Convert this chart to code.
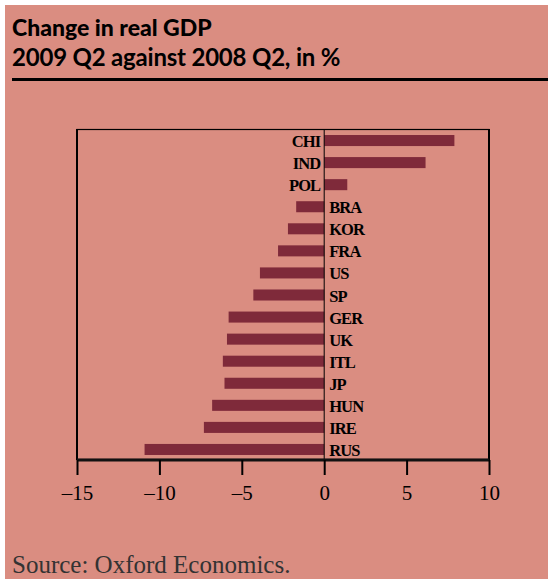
<!DOCTYPE html>
<html>
<head>
<meta charset="utf-8">
<script src="https://cdn.jsdelivr.net/npm/d3@7"></script>
<style>
  body { margin: 0; background: #fff; }
</style>
</head>
<body>
<div class="canvas"></div>
<script>
const countries = ["CHI", "IND", "POL", "BRA", "KOR", "FRA", "US", "SP", "GER", "UK", "ITL", "JP", "HUN", "IRE", "RUS"];
const gdpChange = [7.9, 6.15, 1.4, -1.7, -2.2, -2.8, -3.9, -4.3, -5.8, -5.9, -6.15, -6.05, -6.8, -7.3, -10.9];
const xTicks = [-15, -10, -5, 0, 5, 10];

const width = 548;
const height = 579;
const margin = { top: 130, bottom: 119, left: 77, right: 59 };

const bg = "#da8d81";
const barColor = "#7f2a3a";

const svg = d3
  .select(".canvas")
  .append("svg")
  .attr("width", width)
  .attr("height", height);

// pink panel, white strip on top and left
svg
  .append("rect")
  .attr("x", 5)
  .attr("y", 5)
  .attr("width", width - 5)
  .attr("height", height - 5)
  .attr("fill", bg);

// titles
svg
  .append("text")
  .attr("x", 12)
  .attr("y", 36)
  .attr("font-family", "Lato, sans-serif")
  .attr("font-weight", 900)
  .attr("font-size", 23)
  .attr("letter-spacing", 0)
  .text("Change in real GDP");

svg
  .append("text")
  .attr("x", 12)
  .attr("y", 66)
  .attr("font-family", "Lato, sans-serif")
  .attr("font-weight", 700)
  .attr("font-size", 24)
  .attr("letter-spacing", -0.2)
  .text("2009 Q2 against 2008 Q2, in %");

svg
  .append("line")
  .attr("x1", 12)
  .attr("x2", width)
  .attr("y1", 79.5)
  .attr("y2", 79.5)
  .attr("stroke", "#000")
  .attr("stroke-width", 3);

// scales
const x = d3
  .scaleLinear()
  .domain([-15, 10])
  .range([margin.left, width - margin.right]);

const y = d3
  .scaleBand()
  .domain(countries)
  .range([margin.top - 0.5, height - margin.bottom + 0.5])
  .paddingInner(0.5)
  .paddingOuter(0.25);

const graph = svg.append("g");

// frame
graph
  .append("rect")
  .attr("x", x(-15))
  .attr("y", margin.top - 0.5)
  .attr("width", x(10) - x(-15))
  .attr("height", height - margin.bottom - margin.top)
  .attr("fill", "none")
  .attr("stroke", "#000")
  .attr("stroke-width", 1.2);

graph
  .selectAll("line.side")
  .data([-15, 10])
  .join("line")
  .attr("class", "side")
  .attr("x1", (d) => x(d))
  .attr("x2", (d) => x(d))
  .attr("y1", margin.top - 1)
  .attr("y2", height - margin.bottom)
  .attr("stroke", "#000")
  .attr("stroke-width", 2);

// bars
graph
  .selectAll("rect.bar")
  .data(countries)
  .join("rect")
  .attr("class", "bar")
  .attr("x", (d, i) => x(Math.min(0, gdpChange[i])))
  .attr("y", (d) => y(d))
  .attr("width", (d, i) => Math.abs(x(gdpChange[i]) - x(0)))
  .attr("height", y.bandwidth())
  .attr("fill", barColor);

// zero line
graph
  .append("line")
  .attr("x1", x(0))
  .attr("x2", x(0))
  .attr("y1", margin.top)
  .attr("y2", height - margin.bottom)
  .attr("stroke", "#000")
  .attr("stroke-width", 1);

// country labels, on the opposite side of the bar
graph
  .selectAll("text.lbl")
  .data(countries)
  .join("text")
  .attr("class", "lbl")
  .attr("x", (d, i) => (gdpChange[i] >= 0 ? x(0) - 4 : x(0) + 5))
  .attr("y", (d) => y(d) + y.bandwidth() + 1)
  .attr("text-anchor", (d, i) => (gdpChange[i] >= 0 ? "end" : "start"))
  .attr("font-family", "Liberation Serif, serif")
  .attr("font-weight", "bold")
  .attr("font-size", 16.5)
  .attr("letter-spacing", -0.9)
  .text((d) => d);

// x axis
const xAxis = d3
  .axisBottom(x)
  .tickValues(xTicks)
  .tickSize(15)
  .tickPadding(10)
  .tickFormat((d) => (d < 0 ? "\u2013" + Math.abs(d) : d));

const xAxisGroup = graph
  .append("g")
  .attr("transform", `translate(0,${height - margin.bottom})`)
  .call(xAxis);

xAxisGroup
  .select(".domain")
  .attr("stroke", "#111")
  .attr("stroke-width", 3)
  .attr("d", `M${x(-15)},0H${x(10)}`);

xAxisGroup.selectAll(".tick line").attr("stroke", "#000").attr("stroke-width", 2);

xAxisGroup
  .selectAll(".tick text")
  .attr("fill", "#000")
  .attr("font-family", "Liberation Serif, serif")
  .attr("font-size", 21);

// source
svg
  .append("text")
  .attr("x", 12)
  .attr("y", 573)
  .attr("font-family", "Liberation Serif, serif")
  .attr("font-size", 25)
  .attr("fill", "#333")
  .text("Source: Oxford Economics.");
</script>
</body>
</html>
